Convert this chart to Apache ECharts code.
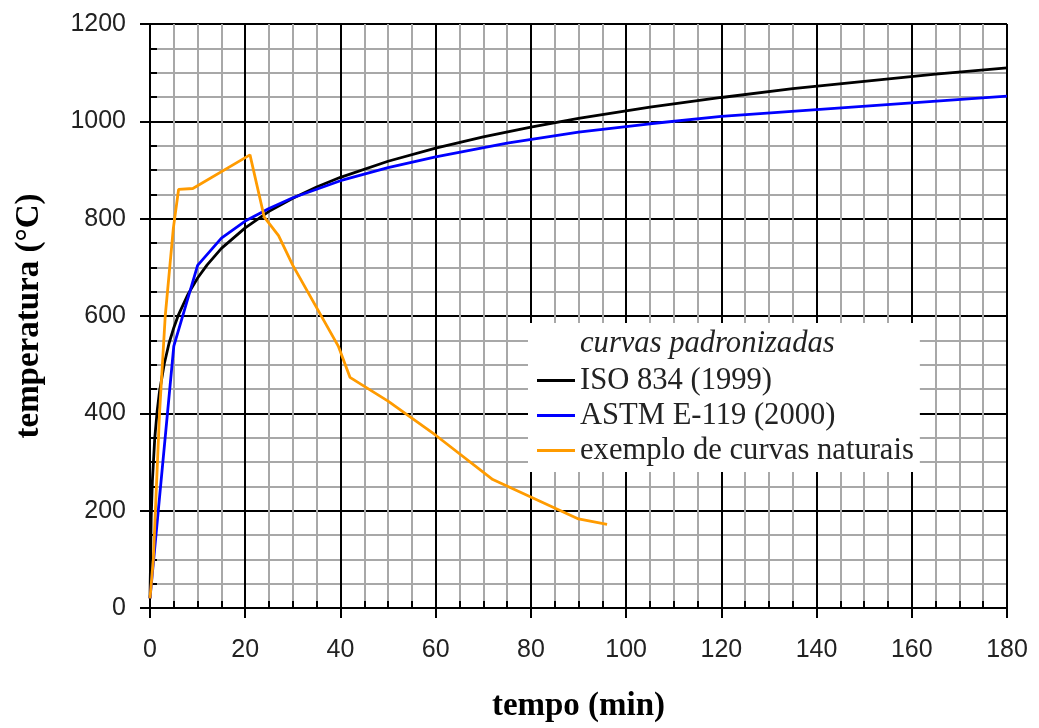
<!DOCTYPE html>
<html>
<head>
<meta charset="utf-8">
<script src="https://cdn.jsdelivr.net/npm/echarts@6/dist/echarts.min.js"></script>
<style>
html,body{margin:0;padding:0;background:#fff;}
#chart{width:1039px;height:728px;}
</style>
</head>
<body>
<div id="chart"></div>
<script>
// ---- data ----
const seriesNames = ['ISO 834 (1999)', 'ASTM E-119 (2000)', 'exemplo de curvas naturais'];
const legendTitle = 'curvas padronizadas';
const xTitle = 'tempo (min)';
const yTitle = 'temperatura (°C)';

const isoTime = [0, 0.25, 0.5, 1, 1.5, 2, 3, 4, 5, 6, 8, 10, 12, 15, 20, 25, 30, 35, 40, 50, 60, 70, 80, 90, 105, 120, 135, 150, 165, 180];
const isoTemp = [20, 185, 261, 349, 404, 445, 502, 544, 576, 603, 645, 678, 705, 739, 781, 815, 842, 865, 885, 918, 945, 968, 988, 1006, 1029, 1049, 1067, 1082, 1097, 1110];

const astmTime = [0, 5, 10, 15, 20, 25, 30, 40, 50, 60, 75, 90, 105, 120, 140, 160, 180];
const astmTemp = [20, 538, 704, 760, 795, 821, 843, 878, 905, 927, 955, 978, 995, 1010, 1024, 1038, 1052];

const natTime = [0, 0.7, 2, 3.2, 4.9, 6, 9, 21, 24, 27, 30, 39.6, 42, 50, 60, 72, 90, 96];
const natTemp = [20, 100, 400, 600, 780, 860, 862, 931, 803, 765, 704, 537, 474, 425, 355, 264, 183, 172];

const xTicks = [0, 20, 40, 60, 80, 100, 120, 140, 160, 180];
const yTicks = [0, 200, 400, 600, 800, 1000, 1200];

function pairs(xs, ys) { return xs.map((x, i) => [x, ys[i]]); }

const chart = echarts.init(document.getElementById('chart'), null, {renderer: 'canvas'});
const serif = '"Liberation Serif", "Times New Roman", serif';
const sans = '"Liberation Sans", Arial, sans-serif';

function axisCommon(ticks) {
  return {
    type: 'value',
    min: ticks[0],
    max: ticks[ticks.length - 1],
    interval: ticks[1] - ticks[0],
    axisLine: {show: true, lineStyle: {color: '#000', width: 2}},
    axisTick: {show: true, length: 10, lineStyle: {color: '#000', width: 2}},
    minorTick: {show: true, splitNumber: 4, length: -7, lineStyle: {color: '#000', width: 2}},
    splitLine: {show: true, showMinLine: true, showMaxLine: true, lineStyle: {color: '#000', width: 2}},
    minorSplitLine: {show: true, lineStyle: {color: '#a8a8a8', width: 2}},
    axisLabel: {color: '#222', fontSize: 25, fontFamily: sans, formatter: v => String(v)},
    nameLocation: 'middle',
    nameTextStyle: {color: '#000', fontSize: 33, fontWeight: 'bold', fontFamily: serif}
  };
}

const xAxis = axisCommon(xTicks);
xAxis.name = xTitle;
xAxis.nameGap = 82;
xAxis.axisLabel.margin = 30;

const yAxis = axisCommon(yTicks);
yAxis.name = yTitle;
yAxis.nameGap = 104;
yAxis.axisLabel.margin = 24;

const colors = ['#000000', '#0000ff', '#ff9b00'];
const dataSets = [pairs(isoTime, isoTemp), pairs(astmTime, astmTemp), pairs(natTime, natTemp)];

chart.setOption({
  animation: false,
  backgroundColor: '#fff',
  grid: {left: 150, right: 32, top: 24, bottom: 117, containLabel: false},
  xAxis: xAxis,
  yAxis: yAxis,
  legend: {
    orient: 'vertical',
    left: 528,
    top: 323,
    padding: [42, 6, 6, 9],
    itemGap: 4,
    itemWidth: 38,
    itemHeight: 3,
    icon: 'rect',
    backgroundColor: '#ffffff',
    textStyle: {color: '#222', fontSize: 30.6, fontFamily: serif},
    data: seriesNames,
    z: 10
  },
  graphic: [{
    type: 'text',
    left: 580,
    top: 328,
    z: 100,
    style: {text: legendTitle, fill: '#222', font: 'italic 30.6px ' + serif}
  }],
  series: seriesNames.map((name, i) => ({
    name: name,
    type: 'line',
    data: dataSets[i],
    showSymbol: false,
    symbol: 'none',
    smooth: false,
    color: colors[i],
    lineStyle: {color: colors[i], width: 2.8},
    z: 3 + i
  }))
});
</script>
</body>
</html>
